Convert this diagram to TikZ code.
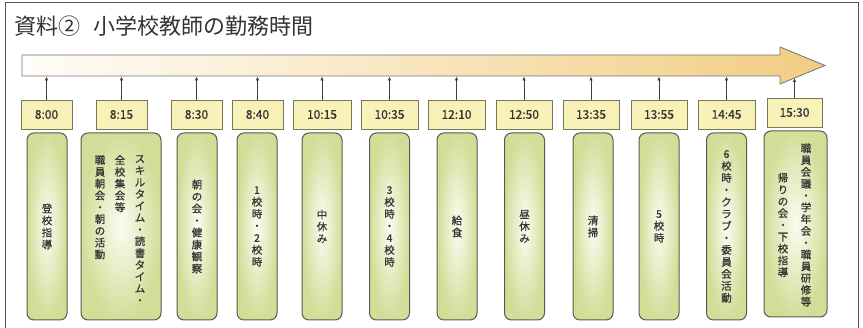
\documentclass[tikz,border=0pt]{standalone}
\usepackage{fontspec}
\setmainfont{Noto Sans CJK JP}
\newfontfamily\heavyfont{Noto Sans CJK JP}[FakeBold=0.7]
\usetikzlibrary{arrows.meta}
\definecolor{framec}{HTML}{555555}
\definecolor{tfill}{HTML}{F8F1B8}
\definecolor{tdraw}{HTML}{77775A}
\definecolor{agreen}{HTML}{D3DD98}
\definecolor{acenter}{HTML}{FBFCF2}
\definecolor{adraw}{HTML}{5A5A52}
\definecolor{barR}{HTML}{F1CD82}
\definecolor{barL}{HTML}{FFFDF9}
\definecolor{txt}{HTML}{333333}
\begin{document}
\begin{tikzpicture}[x=1pt,y=-1pt,
 timebox/.style={draw=tdraw, fill=tfill, line width=0.8pt, minimum height=29pt, inner sep=0pt, font=\heavyfont\fontsize{12}{14}\selectfont, text=txt},
 actbox/.style={draw=adraw, line width=1pt, rounded corners=7pt, inner color=acenter, outer color=agreen, minimum width=40pt, minimum height=187pt, align=center, inner sep=0pt, font=\heavyfont\fontsize{10.5}{12}\selectfont, text=txt},
 vtext/.style={align=center, inner sep=0pt, font=\heavyfont\fontsize{10.5}{11.8}\selectfont, text=txt},
 conn/.style={draw=black!75, line width=0.8pt, -{Latex[length=4pt,width=3.6pt]}}]
\useasboundingbox (0,0) rectangle (863,328);
% frame
\draw[framec, line width=1pt] (5,335) -- (5,3) -- (858,3) -- (858,335);
% title
\node[anchor=west, inner sep=0pt, font=\fontsize{22}{26}\selectfont, text=txt] (title) at (14,26) {資料②\hspace{13pt}小学校教師の勤務時間};
% timeline bar
\shade[left color=barL, right color=barR, draw=black!55, line width=0.8pt]
  (22,55) -- (780,55) -- (780,47) -- (825,65.5) -- (780,84) -- (780,76) -- (22,76) -- cycle;
\coordinate (barb) at (0,76.5);
\coordinate (hb) at (794.5,78);
% time boxes
\node[timebox, minimum width=51pt] (t1) at (46.5,114.5) {8:00};
\node[timebox, minimum width=51pt] (t2) at (121.5,114.5) {8:15};
\node[timebox, minimum width=51pt] (t3) at (196.5,114.5) {8:30};
\node[timebox, minimum width=51pt] (t4) at (257.5,114.5) {8:40};
\node[timebox, minimum width=58pt] (t5) at (322,114.5) {10:15};
\node[timebox, minimum width=57pt] (t6) at (389.5,114.5) {10:35};
\node[timebox, minimum width=57pt] (t7) at (456.5,114.5) {12:10};
\node[timebox, minimum width=56pt] (t8) at (524,114.5) {12:50};
\node[timebox, minimum width=56pt] (t9) at (591,114.5) {13:35};
\node[timebox, minimum width=56pt] (t10) at (659,114.5) {13:55};
\node[timebox, minimum width=57pt] (t11) at (726.5,114.5) {14:45};
\node[timebox, minimum width=55pt] (t12) at (794.5,112.5) {15:30};
% connectors
\foreach \i in {1,...,11} {\draw[conn] (t\i.north) -- (t\i.north |- barb);}
\draw[conn] (t12.north) -- (hb);
% activity boxes
\node[actbox] (a1) at (47,226.5) {登\\校\\指\\導};
\node[actbox, minimum width=80pt] (a2) at (121,226.5) {};
\node[actbox] (a3) at (197,226.5) {朝\\の\\会\\・\\健\\康\\観\\察};
\node[actbox] (a4) at (257,226.5) {1\\校\\時\\・\\2\\校\\時};
\node[actbox] (a5) at (322,226.5) {中\\休\\み};
\node[actbox] (a6) at (389.5,226.5) {3\\校\\時\\・\\4\\校\\時};
\node[actbox] (a7) at (457,226.5) {給\\食};
\node[actbox] (a8) at (524.5,226.5) {昼\\休\\み};
\node[actbox] (a9) at (593,226.5) {清\\掃};
\node[actbox] (a10) at (659,226.5) {5\\校\\時};
\node[actbox] (a11) at (726.5,226.5) {6\\校\\時\\・\\ク\\ラ\\ブ\\・\\委\\員\\会\\活\\動};
\node[actbox, minimum width=63pt, minimum height=186pt] (a12) at (795.5,224) {};
% multi-column texts
\node[vtext, anchor=north] (a2c1) at (140,155) {ス\\キ\\ル\\タ\\イ\\ム\\・\\読\\書\\タ\\イ\\ム\\・};
\node[vtext, anchor=north] (a2c2) at (120,155) {全\\校\\集\\会\\等};
\node[vtext, anchor=north] (a2c3) at (100,155) {職\\員\\朝\\会\\・\\朝\\の\\活\\動};
\node[vtext] (a12c1) at (806,225) {職\\員\\会\\議\\・\\学\\年\\会\\・\\職\\員\\研\\修\\等};
\node[vtext] (a12c2) at (783,225) {帰\\り\\の\\会\\・\\下\\校\\指\\導};
\end{tikzpicture}
\end{document}
